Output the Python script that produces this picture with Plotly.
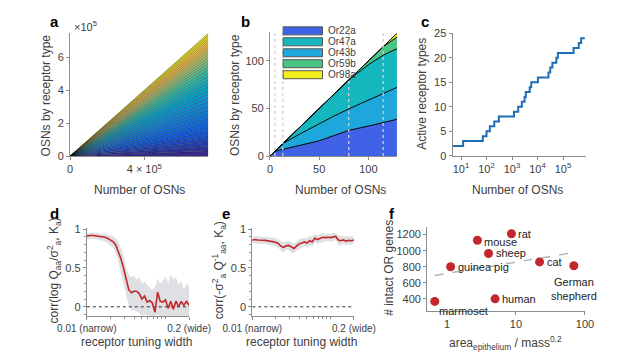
import math
import plotly.graph_objects as go
import plotly.colors as pc

W, H = 617, 355
def dx(px): return px / W
def dy(py): return 1 - py / H

FONT = "Liberation Sans, Arial, Helvetica, sans-serif"
AX = '#8c8c8c'
TXT = '#404040'

# ---------------- data ----------------
# panel a
total_osns = 745000
receptor_shares = [4.0, 3.9, 4.0, 3.9, 3.9, 3.6, 3.6, 3.5, 3.5, 3.4, 3.4, 3.3, 3.2, 3.2, 3.0,
                   3.0, 2.9, 2.9, 2.8, 2.7, 2.6, 2.6, 2.5, 2.4, 2.4, 2.3, 2.2, 2.1, 2.0, 1.9,
                   1.8, 1.7, 1.6, 1.5, 1.4, 1.3]

# panel b
b_osns = [0, 5, 13, 30, 50, 65, 80, 100, 115, 129]
b_names = ['Or22a', 'Or43b', 'Or47a', 'Or59b', 'Or98a']
b_counts = {
    'Or22a': [0, 5, 7, 11.5, 16, 21.5, 27, 31.5, 35.5, 38.6],
    'Or43b': [0, 0, 6, 11.5, 18, 20.5, 22.5, 27.5, 30.9, 33.6],
    'Or47a': [0, 0, 0, 7, 16, 23, 30.5, 37, 39.6, 40.6],
    'Or59b': [0, 0, 0, 0, 0, 0, 0, 4, 9, 12.2],
    'Or98a': [0, 0, 0, 0, 0, 0, 0, 0, 0, 4],
}
b_transitions = [5, 13, 80, 115]
legend_names = ['Or22a', 'Or47a', 'Or43b', 'Or59b', 'Or98a']

# panel c
c_osns = [4.65, 12.1, 71.6, 100, 135, 202, 305, 1195, 1750, 2430, 3110, 3470, 4940, 5670,
          10350, 26900, 31500, 38400, 54800, 62800, 260000, 414000, 515000, 716000]
c_types = [2, 3, 4, 5, 6, 7, 8, 9, 10, 11, 12, 13, 14, 15, 16, 17, 18, 19, 20, 21, 22, 23, 24, 24]

# panels d, e
tuning_width = [0.0100, 0.01080, 0.01166, 0.01259, 0.01359, 0.01468, 0.01585, 0.01711, 0.01848,
                0.01995, 0.02154, 0.02326, 0.02512, 0.02712, 0.02929, 0.03162, 0.03415, 0.03687,
                0.03981, 0.04304, 0.04647, 0.05018, 0.05419, 0.05851, 0.06319, 0.06823, 0.07368,
                0.07957, 0.08591, 0.09278, 0.10018, 0.10819, 0.11683, 0.12616, 0.13623, 0.14712,
                0.15886, 0.17155, 0.18524, 0.2000]
d_corr = [0.91, 0.915, 0.92, 0.915, 0.91, 0.905, 0.90, 0.895, 0.88, 0.86, 0.84, 0.80, 0.71, 0.62,
          0.50, 0.34, 0.22, 0.18, 0.20, 0.20, 0.17, 0.10, 0.14, 0.06, 0.08, 0.05, -0.07, 0.19,
          0.07, 0.06, 0.09, -0.02, 0.07, -0.03, 0.075, 0.0, 0.07, 0.02, 0.07, 0.02]
d_upper = [0.95, 0.95, 0.96, 0.95, 0.95, 0.94, 0.94, 0.94, 0.93, 0.92, 0.91, 0.88, 0.84, 0.76,
           0.66, 0.52, 0.42, 0.38, 0.40, 0.35, 0.38, 0.30, 0.33, 0.28, 0.25, 0.22, 0.25, 0.36,
           0.30, 0.33, 0.40, 0.30, 0.42, 0.35, 0.38, 0.28, 0.34, 0.22, 0.30, 0.26]
d_lower = [0.87, 0.87, 0.88, 0.87, 0.87, 0.86, 0.85, 0.84, 0.82, 0.79, 0.76, 0.70, 0.58, 0.45,
           0.30, 0.15, 0.02, -0.05, -0.04, -0.06, -0.08, -0.12, -0.10, -0.12, -0.12, -0.12,
           -0.12, -0.10, -0.12, -0.12, -0.12, -0.12, -0.12, -0.12, -0.12, -0.12, -0.12, -0.12,
           -0.12, -0.12]
e_corr = [0.857, 0.865, 0.86, 0.855, 0.857, 0.855, 0.85, 0.842, 0.838, 0.83, 0.815, 0.78, 0.765,
          0.785, 0.79, 0.765, 0.75, 0.78, 0.81, 0.82, 0.835, 0.82, 0.85, 0.835, 0.885, 0.865,
          0.875, 0.895, 0.89, 0.895, 0.89, 0.90, 0.905, 0.86, 0.85, 0.86, 0.845, 0.855, 0.85, 0.86]
e_upper = [0.90, 0.91, 0.91, 0.90, 0.90, 0.90, 0.90, 0.89, 0.89, 0.88, 0.87, 0.84, 0.83, 0.84,
           0.85, 0.83, 0.81, 0.84, 0.87, 0.88, 0.89, 0.88, 0.91, 0.90, 0.94, 0.92, 0.93, 0.95,
           0.94, 0.94, 0.94, 0.95, 0.95, 0.92, 0.91, 0.91, 0.90, 0.91, 0.90, 0.90]
e_lower = [0.81, 0.82, 0.81, 0.81, 0.81, 0.81, 0.80, 0.79, 0.79, 0.78, 0.76, 0.72, 0.70, 0.73,
           0.73, 0.70, 0.69, 0.72, 0.75, 0.76, 0.78, 0.76, 0.79, 0.78, 0.83, 0.81, 0.82, 0.84,
           0.84, 0.85, 0.84, 0.85, 0.86, 0.80, 0.79, 0.81, 0.79, 0.80, 0.80, 0.82]

# panel f
species = ['rat', 'mouse', 'sheep', 'cat', 'German<br>shepherd', 'guinea pig', 'human', 'marmoset']
area_per_mass = [8.6, 2.76, 4.0, 22, 69, 1.13, 4.98, 0.665]
intact_or_genes = [1210, 1130, 965, 860, 812, 800, 400, 368]
fit_x = [0.665, 64.5]
fit_y = [692, 972]

# ---------------- styling ----------------
parula = ['#352A87', '#0F5CDD', '#1481D3', '#06A3CA', '#39B99F', '#A5BE6B', '#FBBC41', '#F9FB0E']
parula_scale = [[i / (len(parula) - 1), c] for i, c in enumerate(parula)]
b_colors = {'Or22a': '#3F62E6', 'Or43b': '#1DA7DA', 'Or47a': '#13B7BD',
            'Or59b': '#48C485', 'Or98a': '#F2EF1A'}
RED = '#C1272D'
BAND = '#DEE0E3'

fig = go.Figure()

# panel a
n = len(receptor_shares)
tot = sum(receptor_shares)
cols = pc.sample_colorscale(parula_scale, [i / (n - 1) for i in range(n)])
for i, s in enumerate(receptor_shares):
    fig.add_trace(go.Scatter(x=[0, total_osns], y=[0, s / tot * total_osns], stackgroup='a',
                             mode='lines', line=dict(color='rgba(20,20,20,0.75)', width=0.5),
                             fillcolor=cols[i], xaxis='x', yaxis='y', hoverinfo='skip'))

# panel b
for name in b_names:
    fig.add_trace(go.Scatter(x=b_osns, y=b_counts[name], stackgroup='b', mode='lines',
                             line=dict(color='black', width=1), fillcolor=b_colors[name],
                             xaxis='x2', yaxis='y2', name=name))
for t in b_transitions:
    fig.add_trace(go.Scatter(x=[t, t], y=[0, 130], mode='lines',
                             line=dict(color='#d0d0d0', width=1.3, dash='dot'),
                             xaxis='x2', yaxis='y2', hoverinfo='skip'))

# panel c
fig.add_trace(go.Scatter(x=c_osns, y=c_types, mode='lines', line=dict(color='#1F6DB5', width=2, shape='hv'),
                         xaxis='x3', yaxis='y3'))

# panel d
fig.add_trace(go.Scatter(x=tuning_width + tuning_width[::-1], y=d_upper + d_lower[::-1], fill='toself',
                         fillcolor=BAND, line=dict(width=0), mode='lines', xaxis='x4', yaxis='y4',
                         hoverinfo='skip'))
fig.add_trace(go.Scatter(x=[tuning_width[0], tuning_width[-1]], y=[0, 0], mode='lines',
                         line=dict(color='#333', width=1, dash='dot'), xaxis='x4', yaxis='y4'))
fig.add_trace(go.Scatter(x=tuning_width, y=d_corr, mode='lines', line=dict(color=RED, width=1.6),
                         xaxis='x4', yaxis='y4'))

# panel e
fig.add_trace(go.Scatter(x=tuning_width + tuning_width[::-1], y=e_upper + e_lower[::-1], fill='toself',
                         fillcolor=BAND, line=dict(width=0), mode='lines', xaxis='x5', yaxis='y5',
                         hoverinfo='skip'))
fig.add_trace(go.Scatter(x=[tuning_width[0], tuning_width[-1]], y=[0, 0], mode='lines',
                         line=dict(color='#333', width=1, dash='dot'), xaxis='x5', yaxis='y5'))
fig.add_trace(go.Scatter(x=tuning_width, y=e_corr, mode='lines', line=dict(color=RED, width=1.6),
                         xaxis='x5', yaxis='y5'))

# panel f
fig.add_trace(go.Scatter(x=fit_x, y=fit_y, mode='lines', line=dict(color='#b5b5b5', width=1.5, dash='dash'),
                         xaxis='x6', yaxis='y6'))
fig.add_trace(go.Scatter(x=area_per_mass, y=intact_or_genes, mode='markers',
                         marker=dict(color=RED, size=9), xaxis='x6', yaxis='y6'))

def axis(dom, **kw):
    d = dict(domain=dom, showline=True, linecolor=AX, linewidth=1, ticks='outside', ticklen=3,
             tickcolor=AX, showgrid=False, zeroline=False, tickfont=dict(size=11, color=TXT, family=FONT),
             fixedrange=True)
    d.update(kw)
    return d

lay = dict(width=W, height=H, margin=dict(l=0, r=0, t=0, b=0), paper_bgcolor='white',
           plot_bgcolor='white', showlegend=False, font=dict(family=FONT, color=TXT))

# a
lay['xaxis'] = axis([dx(35), dx(186)], anchor='y', range=[0, total_osns], tickvals=[0, 400000],
                    ticktext=['0', '4 × 10<sup>5</sup>'])
lay['yaxis'] = axis([dy(147), dy(20)], anchor='x', range=[0, total_osns],
                    tickvals=[0, 200000, 400000, 600000], ticktext=['0', '2', '4', '6'])
# b
lay['xaxis2'] = axis([dx(253.3), dx(392)], anchor='y2', range=[0, 129], tickvals=[0, 50, 100])
lay['yaxis2'] = axis([dy(147), dy(19)], anchor='x2', range=[0, 130], tickvals=[0, 50, 100])
# c
lay['xaxis3'] = axis([dx(452.7), dx(598)], anchor='y3', type='log', range=[0.668, 5.886],
                     tickvals=[10, 100, 1000, 10000, 100000],
                     ticktext=['10<sup>1</sup>', '10<sup>2</sup>', '10<sup>3</sup>', '10<sup>4</sup>', '10<sup>5</sup>'])
lay['yaxis3'] = axis([dy(146.7), dy(20)], anchor='x3', range=[0, 25], tickvals=[0, 5, 10, 15, 20, 25])
# d
minor_x = dict(ticks='outside', ticklen=2, tickcolor=AX,
               tickvals=[0.02, 0.03, 0.04, 0.05, 0.06, 0.07, 0.08, 0.09, 0.1])
minor_y = dict(ticks='outside', ticklen=2, tickcolor=AX, dtick=0.1)
lay['xaxis4'] = axis([dx(53.3), dx(165)], anchor='y4', type='log', range=[-2, -0.699],
                     tickvals=[0.01, 0.2], ticktext=['0.01 (narrow)', '0.2 (wide)'],
                     tickfont=dict(size=10, color=TXT, family=FONT), minor=minor_x)
lay['yaxis4'] = axis([dy(312.7), dy(221)], anchor='x4', range=[-0.12, 1.02], tickvals=[0, 0.5, 1],
                     ticktext=['0', '0.5', '1'], minor=minor_y)
# e
lay['xaxis5'] = axis([dx(234), dx(345)], anchor='y5', type='log', range=[-2, -0.699],
                     tickvals=[0.01, 0.2], ticktext=['0.01 (narrow)', '0.2 (wide)'],
                     tickfont=dict(size=10, color=TXT, family=FONT), minor=minor_x)
lay['yaxis5'] = axis([dy(312.7), dy(221)], anchor='x5', range=[-0.12, 1.02], tickvals=[0, 0.5, 1],
                     ticktext=['0', '0.5', '1'], minor=minor_y)
# f
lay['xaxis6'] = axis([dx(425), dx(597.3)], anchor='y6', type='log', range=[-0.287, 2],
                     tickvals=[1, 10, 100], ticktext=['1', '10', '100'])
lay['yaxis6'] = axis([dy(307.3), dy(220)], anchor='x6', range=[250, 1300],
                     tickvals=[400, 600, 800, 1000, 1200])

fig.update_layout(**lay)

ann = []
def A(x, y, text, size=12, angle=0, xanchor='center', yanchor='middle', color=TXT, bold=False):
    if bold:
        text = '<b>' + text + '</b>'
    ann.append(dict(x=dx(x), y=dy(y), xref='paper', yref='paper', text=text, showarrow=False,
                    textangle=angle, xanchor=xanchor, yanchor=yanchor,
                    font=dict(size=size, color=color, family=FONT)))

# panel letters
for L, x, y in [('a', 18, 8), ('b', 227, 8), ('c', 423, 8), ('d', 18, 206), ('e', 205, 206), ('f', 387, 206)]:
    A(x, y, L, size=15, color='black', bold=True)

# axis titles
A(9, 84, 'OSNs by receptor type', angle=-90)
A(111, 182, 'Number of OSNs')
A(37, 12, '×10<sup>5</sup>', size=11, xanchor='left')
A(215, 84, 'OSNs by receptor type', angle=-90)
A(330, 182, 'Number of OSNs')
A(420, 83, 'Active receptor types', angle=-90)
A(524, 182, 'Number of OSNs')
A(18, 265, 'corr(log Q<sub>aa</sub>/σ<sup>2</sup><sub>a</sub>, K<sub>a</sub>)', angle=-90)
A(108, 339, 'receptor tuning width')
A(198, 265, 'corr(-σ<sup>2</sup><sub>a</sub> Q<sup>-1</sup><sub>aa</sub>, K<sub>a</sub>)', angle=-90)
A(288, 339, 'receptor tuning width')
A(383, 263, '# intact OR genes', angle=-90)
A(511, 341, 'area<sub>epithelium</sub> / mass<sup>0.2</sup>')

# panel b legend
box_top = [13.3, 24.6, 36.0, 47.3, 58.7]
shapes = []
for name, top in zip(legend_names, box_top):
    shapes.append(dict(type='rect', xref='paper', yref='paper', x0=dx(267.7), x1=dx(310.7),
                       y0=dy(top + 8.3), y1=dy(top), fillcolor=b_colors[name],
                       line=dict(color='#555', width=1)))
    A(314, top + 4.2, name, size=10, xanchor='left')

# panel f labels
label_pos = {
    'rat': (5, 0, 'left', 'middle'),
    'mouse': (5, 2, 'left', 'middle'),
    'sheep': (5, 0, 'left', 'middle'),
    'cat': (5, 0, 'left', 'middle'),
    'German<br>shepherd': (0, 8, 'center', 'top'),
    'guinea pig': (5, 0, 'left', 'middle'),
    'human': (5, 0, 'left', 'middle'),
    'marmoset': (2, 2, 'left', 'top'),
}
for sp, xv, yv in zip(species, area_per_mass, intact_or_genes):
    xs, ys, xa, ya = label_pos[sp]
    ann.append(dict(x=math.log10(xv), y=yv, xref='x6', yref='y6', text=sp, showarrow=False,
                    xanchor=xa, yanchor=ya, xshift=xs, yshift=-ys,
                    font=dict(size=11, color='#222', family=FONT)))

fig.update_layout(annotations=ann, shapes=shapes)
fig.write_html("out.html")
